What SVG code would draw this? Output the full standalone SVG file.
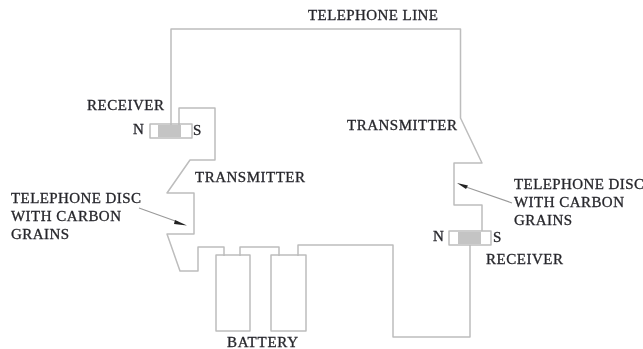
<svg xmlns="http://www.w3.org/2000/svg" width="643" height="349" viewBox="0 0 643 349">
<style>
.w{fill:none;stroke:#bdbdbd;stroke-width:1.5;stroke-linejoin:round}
.t{font-family:"Liberation Serif","Times New Roman",serif;font-size:15px;fill:#26262b;stroke:#26262b;stroke-width:.3}
.c{fill:#c4c4c4;stroke:none}
.a{fill:none;stroke:#9a9a9a;stroke-width:1.2}
.h{fill:#222;stroke:none}
</style>
<defs><filter id="b" x="-5%" y="-5%" width="110%" height="110%"><feGaussianBlur stdDeviation="0.55"/></filter></defs>
<rect width="643" height="349" fill="#fff"/>
<g filter="url(#b)">
<g id="connectors">
<path class="w" d="M171 127V29H460.500V118L482 163H454V205H482V231"/>
<path class="w" d="M179 126V108H215V160H190L167 193H194V234H167L180 271H198V247H224V256"/>
<path class="w" d="M240 256V247H279V256"/>
<path class="w" d="M298 256V245H393V337H470V245"/>
<path class="a" d="M139 208L178 222"/>
<path class="h" d="M175 220L187 225.500L174 224Z"/>
<path class="a" d="M512 203L466 187"/>
<path class="h" d="M457 183L468 185.500L466 189Z"/>
</g>
<g id="receiver-left">
<rect class="w" x="150" y="124" width="42" height="14"/>
<rect class="c" x="158" y="125" width="23" height="12"/>
<text class="t" x="87" y="110" textLength="77">RECEIVER</text>
<text class="t" x="133" y="134">N</text>
<text class="t" x="193" y="135">S</text>
</g>
<g id="transmitter-left">
<text class="t" x="195" y="182" textLength="110">TRANSMITTER</text>
</g>
<g id="disc-left">
<text class="t" x="11" y="203" textLength="130">TELEPHONE DISC</text>
<text class="t" x="11" y="221" textLength="110">WITH CARBON</text>
<text class="t" x="11" y="239" textLength="58">GRAINS</text>
</g>
<g id="battery">
<rect class="w" x="216" y="255" width="34" height="76"/>
<rect class="w" x="271" y="255" width="35" height="76"/>
<text class="t" x="227" y="347" textLength="71">BATTERY</text>
</g>
<g id="telephone-line">
<text class="t" x="308" y="20" textLength="130">TELEPHONE LINE</text>
</g>
<g id="transmitter-right">
<text class="t" x="347" y="130" textLength="110">TRANSMITTER</text>
</g>
<g id="disc-right">
<text class="t" x="514" y="189" textLength="130">TELEPHONE DISC</text>
<text class="t" x="514" y="207" textLength="110">WITH CARBON</text>
<text class="t" x="514" y="225" textLength="58">GRAINS</text>
</g>
<g id="receiver-right">
<rect class="w" x="449" y="231" width="42" height="14"/>
<rect class="c" x="458" y="232" width="23" height="12"/>
<text class="t" x="433" y="241">N</text>
<text class="t" x="493" y="242">S</text>
<text class="t" x="486" y="264" textLength="77">RECEIVER</text>
</g>
</g>
</svg>
